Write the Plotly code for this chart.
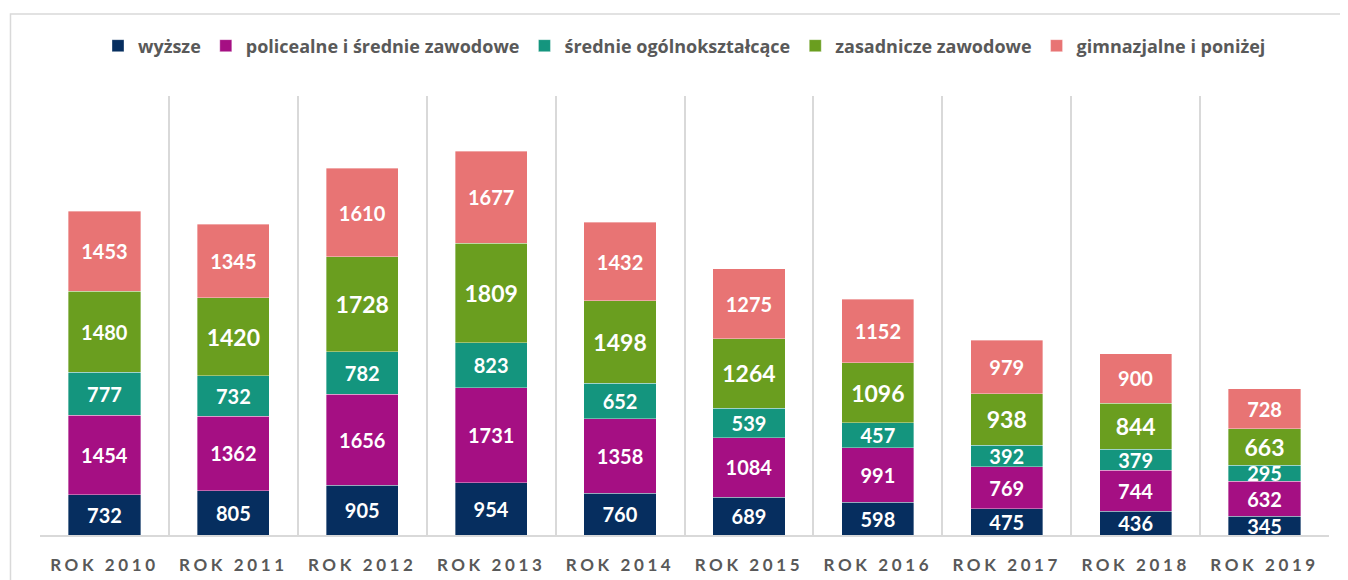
import plotly.graph_objects as go

years = ["2010", "2011", "2012", "2013", "2014", "2015", "2016", "2017", "2018", "2019"]
tick_labels = ["ROK " + y for y in years]

series_names = ["wyższe", "policealne i średnie zawodowe", "średnie ogólnokształcące",
                "zasadnicze zawodowe", "gimnazjalne i poniżej"]
wyzsze = [732, 805, 905, 954, 760, 689, 598, 475, 436, 345]
policealne = [1454, 1362, 1656, 1731, 1358, 1084, 991, 769, 744, 632]
srednie_ogolne = [777, 732, 782, 823, 652, 539, 457, 392, 379, 295]
zasadnicze = [1480, 1420, 1728, 1809, 1498, 1264, 1096, 938, 844, 663]
gimnazjalne = [1453, 1345, 1610, 1677, 1432, 1275, 1152, 979, 900, 728]

colors = ["#062E5F", "#A50F83", "#14957E", "#6A9E1F", "#E87474"]
values = [wyzsze, policealne, srednie_ogolne, zasadnicze, gimnazjalne]

FONT = "Lato, 'Open Sans', 'DejaVu Sans', sans-serif"
LEG_FONT = "'Open Sans', Lato, sans-serif"

fig = go.Figure()
for name, vals, col in zip(series_names, values, colors):
    if name == "zasadnicze zawodowe":
        sizes = [20] + [23] * (len(vals) - 1)
    else:
        sizes = [20] * len(vals)
    fig.add_trace(go.Bar(
        name=name, x=tick_labels, y=vals,
        marker=dict(color=col, line=dict(color="rgba(255,255,255,0.6)", width=0.6)),
        text=[str(v) for v in vals],
        textposition="inside", insidetextanchor="middle", textangle=0,
        constraintext="none",
        textfont=dict(color="white", size=sizes, family=FONT, weight="bold"),
        hoverinfo="x+y+name",
    ))

ticktext = ['<span style="letter-spacing:3.6px">%s</span>' % t for t in tick_labels]

fig.update_layout(
    barmode="stack",
    bargap=0.44,
    width=1348, height=580,
    margin=dict(l=31.5, r=26.5, t=88, b=53, pad=0),
    paper_bgcolor="white", plot_bgcolor="white",
    font=dict(family=FONT, color="#595959"),
    showlegend=True,
    legend=dict(orientation="h", x=0.5, xanchor="center", y=1.114, yanchor="middle",
                font=dict(size=18, color="#595959", family=LEG_FONT, weight="bold"),
                traceorder="normal", itemwidth=30, bgcolor="rgba(0,0,0,0)"),
    xaxis=dict(type="category", tickson="boundaries", showgrid=True, gridcolor="#D9D9D9",
               gridwidth=1.5, showline=True, linecolor="#D9D9D9", linewidth=1.5,
               ticks="", tickvals=tick_labels, ticktext=ticktext,
               tickfont=dict(size=17, color="#595959", family=FONT, weight="bold"),
               ticklabelstandoff=14, fixedrange=True),
    yaxis=dict(range=[0, 8000], visible=False, showgrid=False, fixedrange=True),
    shapes=[dict(type="rect", xref="paper", yref="paper",
                 x0=-0.0229, x1=1.05, y0=-0.3, y1=1.187,
                 line=dict(color="#D9D9D9", width=1.5), fillcolor="rgba(0,0,0,0)",
                 layer="below")],
)

fig.write_html("out.html")
